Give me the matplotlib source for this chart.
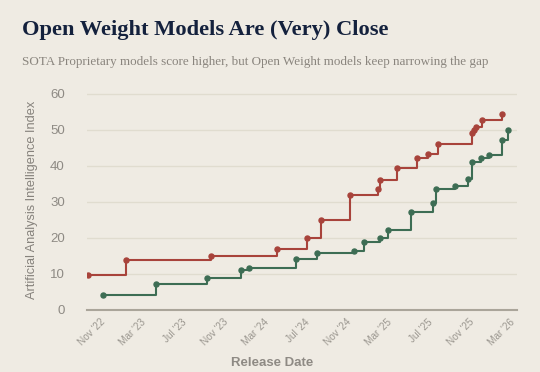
import numpy as np
import pandas as pd
import matplotlib
matplotlib.use("Agg")
import matplotlib.pyplot as plt
import matplotlib.dates as mdates

# Proprietary (SOTA) frontier
prop_dates = ["2022-09-27", "2023-01-17", "2023-09-25", "2024-04-09", "2024-07-08",
              "2024-08-17", "2024-11-12", "2025-02-02", "2025-02-08", "2025-04-01",
              "2025-05-29", "2025-07-02", "2025-07-31", "2025-11-10", "2025-11-15",
              "2025-11-21", "2025-12-09", "2026-02-06"]
prop_scores = [9.8, 13.9, 15.0, 17.0, 20.0, 25.0, 32.0, 33.5, 36.0, 39.5,
               42.3, 43.2, 46.1, 49.3, 50.0, 50.9, 52.9, 54.4]

# Open weight frontier
open_dates = ["2022-11-09", "2023-04-17", "2023-09-15", "2023-12-23", "2024-01-16",
              "2024-06-04", "2024-08-06", "2024-11-24", "2024-12-22", "2025-02-09",
              "2025-03-05", "2025-05-12", "2025-07-16", "2025-07-26", "2025-09-19",
              "2025-10-29", "2025-11-08", "2025-12-06", "2025-12-30", "2026-02-07",
              "2026-02-23"]
open_scores = [4.1, 7.2, 9.0, 11.0, 11.8, 14.2, 15.8, 16.4, 18.9, 20.0,
               22.1, 27.2, 29.7, 33.6, 34.4, 36.5, 41.2, 42.2, 43.0, 47.2,
               50.1]

tick_dates = ["2022-11-01", "2023-03-01", "2023-07-01", "2023-11-01", "2024-03-01",
              "2024-07-01", "2024-11-01", "2025-03-01", "2025-07-01", "2025-11-01",
              "2026-03-01"]
tick_labels = ["Nov '22", "Mar '23", "Jul '23", "Nov '23", "Mar '24", "Jul '24",
               "Nov '24", "Mar '25", "Jul '25", "Nov '25", "Mar '26"]

bg = "#efebe3"
red = "#a8433b"
green = "#3d6d54"

fig = plt.figure(figsize=(5.4, 3.72), dpi=100, facecolor=bg)
ax = fig.add_axes([0.161, 0.1667, 0.796, 0.5903], facecolor=bg)

p_dates = pd.to_datetime(prop_dates)
o_dates = pd.to_datetime(open_dates)

ax.plot(p_dates, prop_scores, drawstyle="steps-post", color=red, lw=1.5, zorder=3)
ax.plot(p_dates, prop_scores, "o", color=red, ms=3.6, zorder=4)
ax.plot(o_dates, open_scores, drawstyle="steps-post", color=green, lw=1.5, zorder=3)
ax.plot(o_dates, open_scores, "o", color=green, ms=3.6, zorder=4)

ax.set_xlim(pd.Timestamp("2022-09-23"), pd.Timestamp("2026-03-22"))
ax.set_ylim(0, 61)

ax.set_yticks([0, 10, 20, 30, 40, 50, 60])
ax.grid(axis="y", color="#e0dccf", lw=1, zorder=0)
ax.set_xticks(pd.to_datetime(tick_dates))
ax.set_xticklabels(tick_labels, rotation=45, ha="right", rotation_mode="anchor",
                   fontsize=7.2, color="#9a968f", family="Liberation Sans")
for lbl in ax.get_yticklabels():
    lbl.set_family("Liberation Sans")
ax.tick_params(axis="y", length=0, pad=16, labelsize=9.5, labelcolor="#8e8a84")
ax.tick_params(axis="x", length=0, pad=5)

for s in ["top", "right", "left"]:
    ax.spines[s].set_visible(False)
ax.spines["bottom"].set_color("#aaa59a")
ax.spines["bottom"].set_linewidth(1.5)

ax.set_ylabel("Artificial Analysis Intelligence Index", fontsize=9.2, color="#86827c",
              family="Liberation Sans")
ax.yaxis.set_label_coords(-0.114, 0.5)
ax.set_xlabel("Release Date", fontsize=9.5, color="#8e8a84", family="Liberation Sans",
              fontweight="bold")
ax.xaxis.set_label_coords(0.43, -0.215)

fig.text(0.041, 0.905, "Open Weight Models Are (Very) Close", fontsize=16.2, fontweight="bold",
         color="#14213d", family="Liberation Serif", va="baseline")
fig.text(0.041, 0.825, "SOTA Proprietary models score higher, but Open Weight models keep narrowing the gap",
         fontsize=9.45, color="#8a857e", family="Liberation Serif", va="baseline")

fig.savefig("out.png", dpi=100, facecolor=bg)
